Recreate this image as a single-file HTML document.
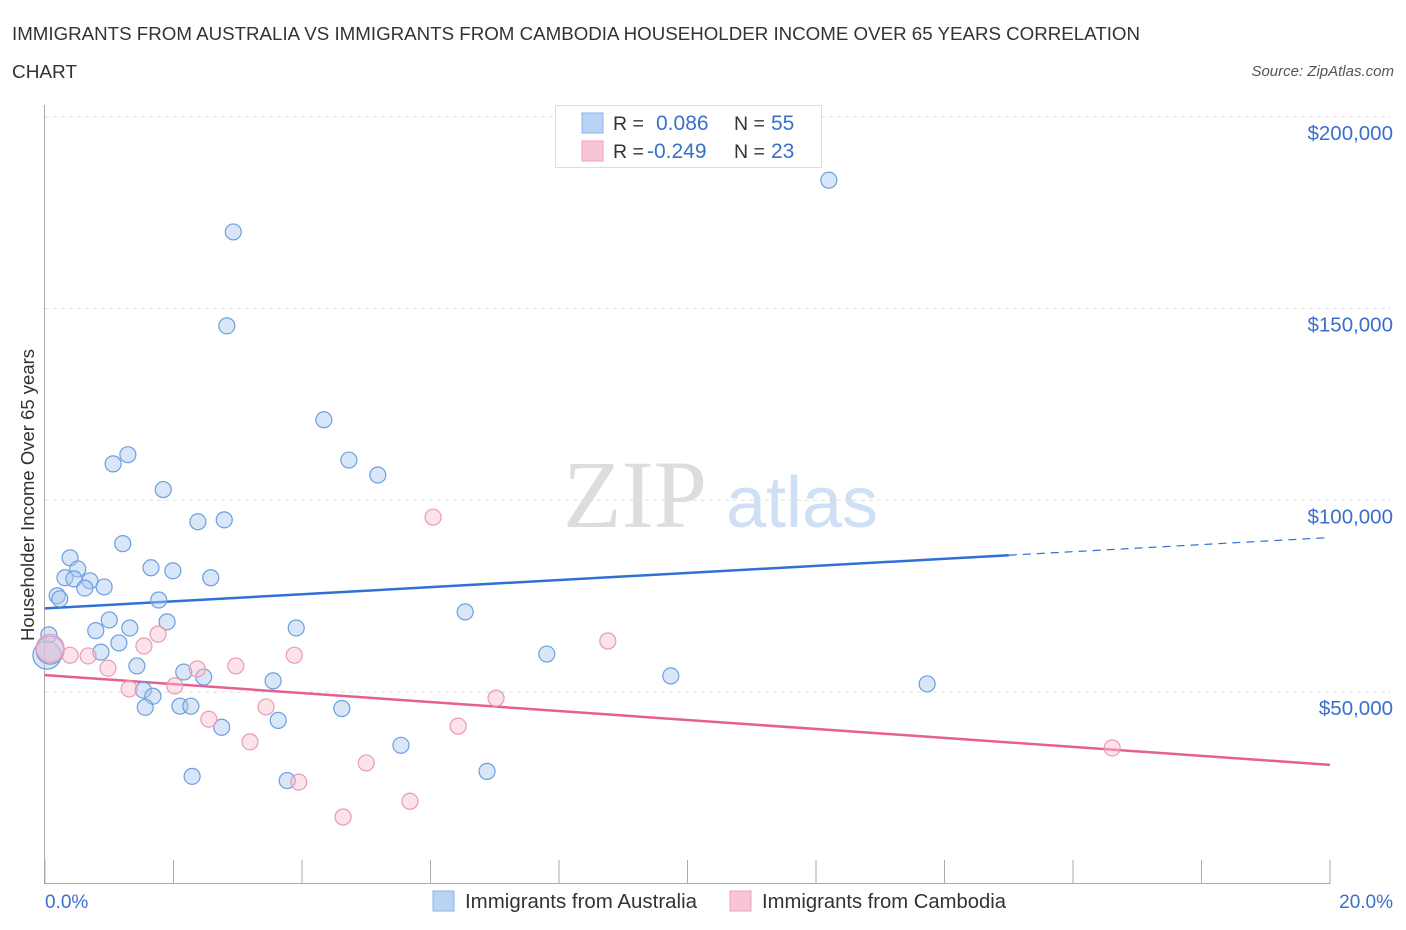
<!DOCTYPE html>
<html><head><meta charset="utf-8"><style>
body{margin:0;background:#fff;font-family:"Liberation Sans",sans-serif;}
svg{display:block}
</style></head><body>
<svg id="chart" width="1406" height="930">
<text x="12" y="40" font-size="18.5" fill="#333" textLength="1128" lengthAdjust="spacingAndGlyphs">IMMIGRANTS FROM AUSTRALIA VS IMMIGRANTS FROM CAMBODIA HOUSEHOLDER INCOME OVER 65 YEARS CORRELATION</text>
<text x="12" y="78" font-size="18.5" fill="#333" textLength="65" lengthAdjust="spacingAndGlyphs">CHART</text>
<text x="1394" y="76" font-size="15" fill="#555" font-style="italic" text-anchor="end">Source: ZipAtlas.com</text>
<g>
<text x="635" y="527" font-size="96" fill="#ddd" font-family="Liberation Serif,serif" text-anchor="middle">ZIP</text>
<text x="802" y="527" font-size="72" fill="#cfe0f5" text-anchor="middle">atlas</text>
</g>
<g id="grid"></g><g id="axes"></g><g id="lines"></g><g id="pts"></g>
<text transform="translate(34,495) rotate(-90)" font-size="18.5" fill="#333" text-anchor="middle">Householder Income Over 65 years</text>
<text x="45" y="908" font-size="19" fill="#3a6fcc">0.0%</text>
<text x="1393" y="908" font-size="19" fill="#3a6fcc" text-anchor="end">20.0%</text>
<g>
<rect x="555.5" y="105.5" width="266" height="62" fill="#fff" stroke="#ddd"/>
<rect x="582" y="113" width="21" height="20" fill="#b9d3f5" stroke="#8ab4ea"/>
<rect x="582" y="141" width="21" height="20" fill="#f8c5d5" stroke="#f0a2bb"/>
<text x="613" y="130" font-size="19.5" fill="#333">R = </text><text x="656" y="130" font-size="21" fill="#3a6fcc">0.086</text>
<text x="734" y="130" font-size="19.5" fill="#333">N = </text><text x="771" y="130" font-size="21" fill="#3a6fcc">55</text>
<text x="613" y="158" font-size="19.5" fill="#333">R = </text><text x="647" y="158" font-size="21" fill="#3a6fcc">-0.249</text>
<text x="734" y="158" font-size="19.5" fill="#333">N = </text><text x="771" y="158" font-size="21" fill="#3a6fcc">23</text>
</g>
<g>
<rect x="433" y="891" width="21" height="20" fill="#b9d3f5" stroke="#8ab4ea"/>
<text x="465" y="908" font-size="20" fill="#333" textLength="232" lengthAdjust="spacingAndGlyphs">Immigrants from Australia</text>
<rect x="730" y="891" width="21" height="20" fill="#f8c5d5" stroke="#f0a2bb"/>
<text x="762" y="908" font-size="20" fill="#333" textLength="244" lengthAdjust="spacingAndGlyphs">Immigrants from Cambodia</text>
</g>
</svg>
<script>
const yTicks=[50000,100000,150000,200000];
const yTickLabels=["$50,000","$100,000","$150,000","$200,000"];
const xTicks=[0,2,4,6,8,10,12,14,16,18,20];
const ausX=[12.2,2.93,2.83,4.34,4.73,5.18,1.06,1.29,1.84,2.38,2.79,1.21,0.39,1.65,1.99,2.58,0.51,0.31,0.45,0.70,0.92,0.62,0.19,0.23,1.77,6.54,1.0,1.9,0.79,1.32,3.91,0.06,1.15,0.87,7.81,1.43,2.16,2.47,9.74,3.55,13.73,1.53,1.68,1.56,2.1,2.27,4.62,3.63,2.75,5.54,6.88,2.29,3.77,0.03,0.08];
const ausY=[183.5,170,145.5,121,110.5,106.6,109.5,111.9,102.8,94.4,94.9,88.7,85,82.4,81.6,79.8,82.1,79.8,79.5,79,77.4,77.1,75.1,74.3,74,70.9,68.8,68.3,66,66.7,66.7,64.9,62.8,60.4,59.9,56.8,55.2,53.9,54.2,52.9,52.1,50.5,48.9,46,46.3,46.3,45.7,42.6,40.8,36.1,29.3,28,26.9,59.6,60.9];
const camX=[6.04,8.76,1.76,1.54,0.39,0.67,0.98,2.37,2.97,3.88,2.02,1.31,3.44,2.55,7.02,6.43,3.19,5.0,3.95,5.68,4.64,16.61,0.08];
const camY=[95.6,63.3,65.1,62,59.6,59.4,56.2,56,56.8,59.6,51.6,50.8,46.1,42.9,48.4,41.1,37,31.5,26.5,21.5,17.4,35.4,61.4];
const ausTrend=[71.8,90.3];
const camTrend=[54.4,31.0];
const NS="http://www.w3.org/2000/svg";
const X=p=>45+p*64.25;
const Y=v=>883.7-(v/1000)*3.834;
function mk(tag,at,parent){const e=document.createElementNS(NS,tag);for(const k in at)e.setAttribute(k,at[k]);document.getElementById(parent).appendChild(e);return e;}
yTicks.forEach((t,i)=>{
 const g=mk('line',{x1:45,x2:1390,y1:Y(t),y2:Y(t),stroke:'#ddd','stroke-dasharray':'4,4'},'grid');
 
 
 const l=mk('text',{x:1393,y:Y(t)+23,'font-size':20.5,fill:'#3a6fcc','text-anchor':'end'},'axes');
 l.textContent=yTickLabels[i];
 
 
});
const ax=mk('line',{x1:45,x2:1330,y1:883.5,y2:883.5,stroke:'#aaa'},'axes');


const ay=mk('line',{x1:44.5,x2:44.5,y1:105,y2:884,stroke:'#aaa'},'axes');


xTicks.forEach(t=>{
 const e=mk('line',{x1:X(t),x2:X(t),y1:860,y2:884,stroke:'#aaa'},'axes');
 
 
});
const bl=mk('line',{x1:X(0),y1:Y(ausTrend[0]*1000),x2:X(15),y2:Y((ausTrend[0]+(ausTrend[1]-ausTrend[0])*0.75)*1000),stroke:'#2f6fd6','stroke-width':2.5},'lines');


const bd=mk('line',{x1:X(15),y1:Y((ausTrend[0]+(ausTrend[1]-ausTrend[0])*0.75)*1000),x2:X(20),y2:Y(ausTrend[1]*1000),stroke:'#2f6fd6','stroke-width':1.2,'stroke-dasharray':'8,6'},'lines');


const pl=mk('line',{x1:X(0),y1:Y(camTrend[0]*1000),x2:X(20),y2:Y(camTrend[1]*1000),stroke:'#e5608f','stroke-width':2.5},'lines');


ausX.forEach((x,i)=>{
 const big=i>=53;
 const c=mk('circle',{cx:X(x),cy:Y(ausY[i]*1000),r:big?14:8,fill:'rgba(170,200,240,0.45)',stroke:'#6a9fe0','stroke-width':1.2},'pts');
 
 
});
camX.forEach((x,i)=>{
 const big=i===22;
 const c=mk('circle',{cx:X(x),cy:Y(camY[i]*1000),r:big?14:8,fill:'rgba(248,190,208,0.45)',stroke:'#eb9ab4','stroke-width':1.2},'pts');
 
 
});
</script>
</body></html>
